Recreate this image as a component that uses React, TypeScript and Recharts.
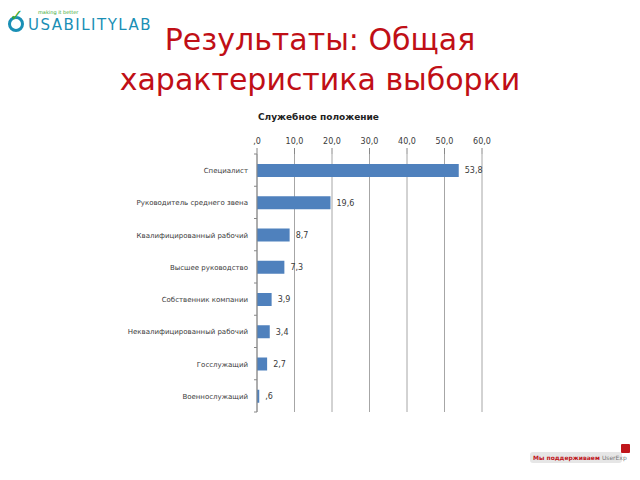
import { Bar, BarChart, CartesianGrid, LabelList, XAxis, YAxis } from 'recharts'

const categories = [
  'Специалист',
  'Руководитель среднего звена',
  'Квалифицированный  рабочий',
  'Высшее руководство',
  'Собственник компании',
  'Неквалифицированный  рабочий',
  'Госслужащий',
  'Военнослужащий',
]
const shares = [53.8, 19.6, 8.7, 7.3, 3.9, 3.4, 2.7, 0.6]
const xTicks = [0, 10, 20, 30, 40, 50, 60]

const rows = categories.map((name, i) => ({ name, value: shares[i] }))

// Excel-style russian decimals: 0.6 -> ",6", 10 -> "10,0"
const fmt = (v: number) => {
  const s = Number(v).toFixed(1).replace('.', ',')
  return s.startsWith('0,') ? s.slice(1) : s
}

const font = '"DejaVu Sans", Verdana, sans-serif'
const plotTop = 154
const plotBottom = 412
const band = (plotBottom - plotTop) / categories.length

// category label + small divider marks on the axis, between categories
function CategoryTick(props: any) {
  const { x, y, payload, index } = props
  const half = band / 2
  return (
    <g>
      <line x1={x - 3} x2={x} y1={y - half} y2={y - half} stroke="#888" />
      {index === categories.length - 1 && (
        <line x1={x - 3} x2={x} y1={y + half} y2={y + half} stroke="#888" />
      )}
      <text x={x - 9} y={y} dy={3} textAnchor="end" fontSize={7} fill="#3a3a3a" fontFamily={font}>
        {payload.value}
      </text>
    </g>
  )
}

export default function App() {
  return (
    <div style={{ position: 'absolute', left: 0, top: 0, width: 640, height: 480, background: '#fff', fontFamily: font }}>
      {/* logo */}
      <div style={{ position: 'absolute', left: 6, top: 6, width: 150, height: 30 }}>
        <div style={{ position: 'absolute', left: 2, top: 10, width: 16, height: 16, borderRadius: 8, border: '3px solid #1a8fb5', boxSizing: 'border-box' }} />
        <div style={{ position: 'absolute', left: 4, top: 0, fontSize: 16, color: '#3aaa35', fontWeight: 'bold' }}>✓</div>
        <div style={{ position: 'absolute', left: 32, top: 3, fontSize: 5, color: '#3aaa35' }}>making it better</div>
        <div style={{ position: 'absolute', left: 22, top: 10, fontSize: 15, letterSpacing: 1.5, color: '#1a8fb5', fontFamily: '"DejaVu Sans", sans-serif' }}>USABILITYLAB</div>
      </div>

      <div style={{ position: 'absolute', left: 0, top: 20, width: 640, textAlign: 'center', color: '#c00f16', fontSize: 30, lineHeight: '40px' }}>
        Результаты: Общая
        <br />
        характеристика выборки
      </div>

      <div style={{ position: 'absolute', left: 258, top: 112, fontSize: 9, fontWeight: 'bold', color: '#222' }}>
        Служебное положение
      </div>

      <div style={{ position: 'absolute', left: 0, top: 0 }}>
        <BarChart
          width={640}
          height={480}
          data={rows}
          layout="vertical"
          margin={{ top: 126, right: 158, bottom: 480 - plotBottom, left: 0 }}
          barCategoryGap="30%"
        >
          <CartesianGrid horizontal={false} stroke="#a6a6a6" />
          <XAxis
            type="number"
            orientation="top"
            domain={[0, 60]}
            ticks={xTicks}
            tickFormatter={fmt}
            height={plotTop - 126}
            axisLine={false}
            tickLine={{ stroke: '#888' }}
            tickSize={6}
            tickMargin={4}
            tick={{ fontSize: 8, fill: '#3a3a3a', fontFamily: font }}
          />
          <YAxis
            type="category"
            dataKey="name"
            width={257}
            axisLine={{ stroke: '#888' }}
            tickLine={false}
            tickSize={0}
            tickMargin={0}
            tick={<CategoryTick />}
            interval={0}
          />
          <Bar dataKey="value" fill="#4f81bd" barSize={13} isAnimationActive={false}>
            <LabelList
              dataKey="value"
              position="right"
              offset={6}
              formatter={(v: any) => fmt(v)}
              style={{ fontSize: 8, fill: '#3a3a3a', fontFamily: font }}
            />
          </Bar>
        </BarChart>
      </div>

      {/* footer badge */}
      <div style={{ position: 'absolute', left: 530, top: 452, width: 92, height: 11, background: '#e6e6e6', borderRadius: 3, fontSize: 6, lineHeight: '11px', paddingLeft: 3, boxSizing: 'border-box', whiteSpace: 'nowrap' }}>
        <span style={{ color: '#c0161b', fontWeight: 'bold' }}>Мы поддерживаем </span>
        <span style={{ color: '#777' }}>UserExp</span>
      </div>
      <div style={{ position: 'absolute', left: 621, top: 444, width: 9, height: 9, background: '#c0161b', borderRadius: 1 }} />
    </div>
  )
}
